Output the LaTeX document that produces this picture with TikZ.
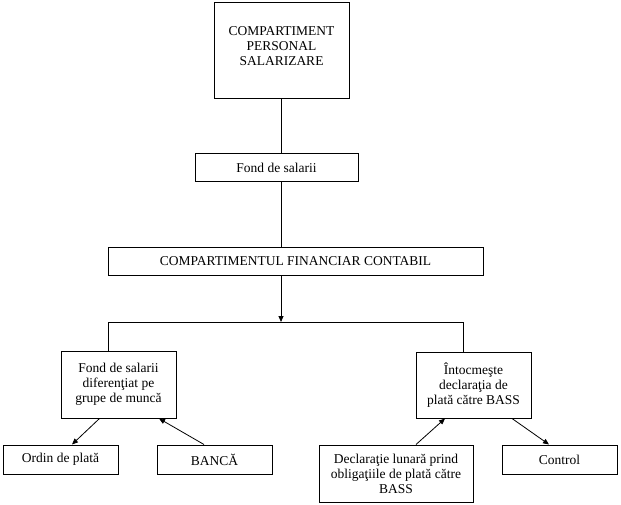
\documentclass[tikz,border=0pt]{standalone}
\usepackage{fontspec}
\setmainfont{Liberation Serif}
\usetikzlibrary{arrows.meta}
\begin{document}
\begin{tikzpicture}[x=1pt,y=-1pt,
  box/.style={draw,line width=1pt,inner sep=0pt,align=center,font=\fontsize{13.5}{15}\selectfont},
  txt/.style={inner sep=0pt,align=center,font=\fontsize{13.5}{15}\selectfont},
  conn/.style={line width=1pt},
  arr/.style={line width=0.8pt,-{Triangle[length=6pt,width=5pt]}}]
\useasboundingbox (0,0) rectangle (621,505);
\node[box,minimum width=135pt,minimum height=96pt] (cps) at (281.5,51) {};
\node[txt] (cpst) at ([yshift=5pt]cps.center) {COMPARTIMENT\\PERSONAL\\SALARIZARE};
\node[box,minimum width=163pt,minimum height=28pt] (fs) at (276.5,168) {Fond de salarii};
\node[box,minimum width=375pt,minimum height=28pt] (cfc) at (295.5,261) {COMPARTIMENTUL FINANCIAR CONTABIL};
\node[box,minimum width=115pt,minimum height=67pt] (fsd) at (118.5,384.5) {Fond de salarii\\diferenţiat pe\\grupe de muncă};
\node[box,minimum width=115pt,minimum height=66pt] (int) at (473.5,385) {Întocmeşte\\declaraţia de\\plată către BASS};
\node[box,minimum width=115pt,minimum height=29pt] (op) at (60.5,459.5) {Ordin de plată};
\node[box,minimum width=115pt,minimum height=29pt] (ban) at (214.5,459.5) {BANCĂ};
\node[box,minimum width=154pt,minimum height=57pt] (dec) at (396,473.5) {Declaraţie lunară prind\\obligaţiile de plată către\\BASS};
\node[box,minimum width=115pt,minimum height=29pt] (ctl) at (559.5,459.5) {Control};
\coordinate (j) at (281,322);
\coordinate (jl) at (108,322);
\coordinate (jr) at (463,322);
\draw[conn] (cps.south -| j) -- (fs.north -| j);
\draw[conn] (fs.south -| j) -- (cfc.north -| j);
\draw[arr] (cfc.south -| j) -- (j);
\draw[conn] (fsd.north -| jl) -- (jl) -- (jr) -- (int.north -| jr);
\draw[arr] ([xshift=-19pt]fsd.south) -- ([xshift=11.5pt]op.north);
\draw[arr] ([xshift=-10.5pt]ban.north) -- ([xshift=40.5pt]fsd.south);
\draw[arr] ([xshift=20pt]dec.north) -- ([xshift=-28.5pt]int.south);
\draw[arr] ([xshift=38.5pt]int.south) -- ([xshift=-10.5pt]ctl.north);
\end{tikzpicture}
\end{document}
